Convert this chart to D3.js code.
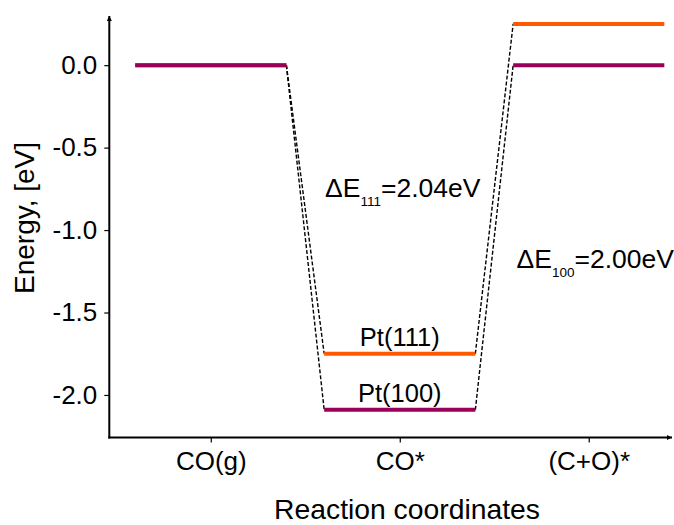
<!DOCTYPE html>
<html>
<head>
<meta charset="utf-8">
<script src="https://cdn.jsdelivr.net/npm/d3@7"></script>
<style>
  html, body { margin: 0; padding: 0; background: #fff; }
  text { font-family: "Liberation Sans", Arial, sans-serif; fill: #000; }
</style>
</head>
<body>
<svg id="chart" width="674" height="525"></svg>
<script>
const states = ["CO(g)", "CO*", "(C+O)*"];
const pt111 = [0.0, -1.75, 0.25];
const pt100 = [0.0, -2.09, 0.0];
const yTicks = [0.0, -0.5, -1.0, -1.5, -2.0];
const seriesNames = ["Pt(111)", "Pt(100)"];
const seriesColors = ["#ff5a00", "#990058"];
const deltaLabels = [
  { main: "ΔE", sub: "111", rest: "=2.04eV", x: 0.605, y: -0.80 },
  { main: "ΔE", sub: "100", rest: "=2.00eV", x: 1.618, y: -1.23 }
];

const svg = d3.select("#chart");
const x = d3.scaleLinear().domain([-0.537, 2.43]).range([109.3, 670]);
const y = d3.scaleLinear().domain([-2.258, 0.28]).range([437.5, 19]);
const halfW = 0.4;

const defs = svg.append("defs");
defs.append("marker").attr("id", "arr").attr("viewBox", "0 0 10 10")
  .attr("refX", 10).attr("refY", 5).attr("markerWidth", 5).attr("markerHeight", 5)
  .attr("markerUnits", "userSpaceOnUse").attr("orient", "auto")
  .append("path").attr("d", "M0,0 L10,5 L0,10 Z").attr("fill", "#000");

const yAxis = d3.axisLeft(y).tickValues(yTicks).tickFormat(d3.format(".1f")).tickSize(5).tickPadding(7);
const gy = svg.append("g").attr("transform", `translate(${x.range()[0]},0)`).call(yAxis);
gy.select(".domain").remove();
gy.selectAll("text").style("font-size", "26px").style("font-family", "Liberation Sans, Arial, sans-serif")
  .text(d => d3.format(".1f")(d).replace("−", "-"));
gy.selectAll("line").attr("stroke", "#000").attr("stroke-width", 1.2);

const xAxis = d3.axisBottom(x).tickValues([0, 1, 2]).tickFormat(i => states[i]).tickSize(5).tickPadding(9);
const gx = svg.append("g").attr("transform", `translate(0,${y.range()[0]})`).call(xAxis);
gx.select(".domain").remove();
gx.selectAll("text").style("font-size", "26px").style("font-family", "Liberation Sans, Arial, sans-serif");
gx.selectAll("line").attr("stroke", "#000").attr("stroke-width", 1.2);

svg.append("line").attr("x1", x.range()[0]).attr("x2", x.range()[0])
  .attr("y1", y.range()[0] + 1).attr("y2", 16)
  .attr("stroke", "#000").attr("stroke-width", 2).attr("marker-end", "url(#arr)");
svg.append("line").attr("x1", x.range()[0] - 1).attr("x2", 672)
  .attr("y1", y.range()[0]).attr("y2", y.range()[0])
  .attr("stroke", "#000").attr("stroke-width", 2).attr("marker-end", "url(#arr)");

[pt111, pt100].forEach(vals => {
  for (let i = 0; i < vals.length - 1; i++) {
    svg.append("line")
      .attr("x1", x(i + halfW)).attr("y1", y(vals[i]))
      .attr("x2", x(i + 1 - halfW)).attr("y2", y(vals[i + 1]))
      .attr("stroke", "#000").attr("stroke-width", 1.4).attr("stroke-dasharray", "4,2");
  }
});

[pt111, pt100].forEach((vals, s) => {
  svg.append("g").selectAll("line").data(vals).join("line")
    .attr("x1", (d, i) => x(i - halfW)).attr("x2", (d, i) => x(i + halfW))
    .attr("y1", d => y(d)).attr("y2", d => y(d))
    .attr("stroke", seriesColors[s]).attr("stroke-width", 4);
});

[pt111, pt100].forEach((vals, s) => {
  svg.append("text").attr("x", x(1)).attr("y", y(vals[1]) - 8)
    .attr("text-anchor", "middle").style("font-size", "25.5px").text(seriesNames[s]);
});

deltaLabels.forEach(d => {
  const t = svg.append("text").attr("x", x(d.x)).attr("y", y(d.y)).style("font-size", "26.5px");
  t.append("tspan").text(d.main);
  t.append("tspan").attr("dy", 9).style("font-size", "13.5px").text(d.sub);
  t.append("tspan").attr("dy", -9).text(d.rest);
});

svg.append("text").attr("x", 407).attr("y", 519).attr("text-anchor", "middle")
  .style("font-size", "28.3px").text("Reaction coordinates");
svg.append("text").attr("transform", "translate(34,218) rotate(-90)").attr("text-anchor", "middle")
  .style("font-size", "28px").text("Energy, [eV]");
</script>
</body>
</html>
